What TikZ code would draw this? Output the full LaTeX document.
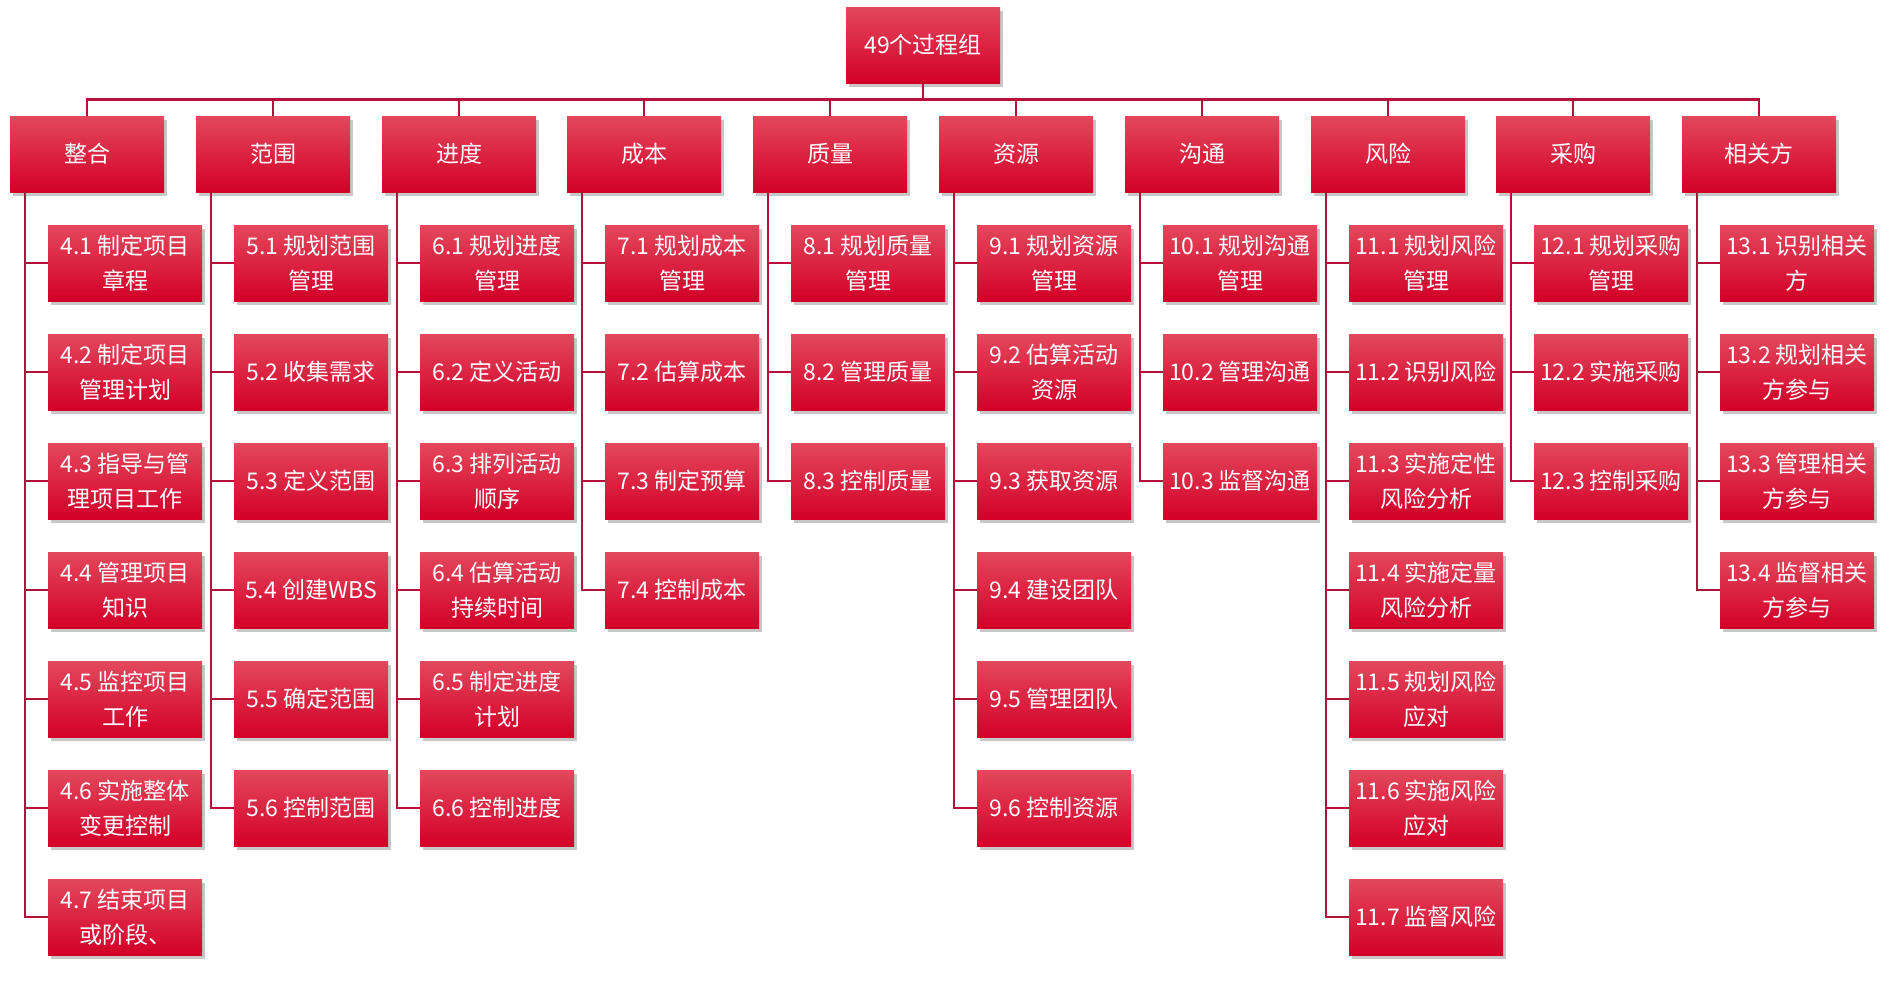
\documentclass[tikz,border=0pt]{standalone}
\usepackage{fontspec}
\newfontfamily\cjkfont{Noto Sans CJK SC}
\usetikzlibrary{shadows}
\definecolor{wbstop}{RGB}{227,72,92}
\definecolor{wbsmid}{RGB}{222,12,50}
\definecolor{wbsbot}{RGB}{211,0,40}
\definecolor{wbsline}{RGB}{180,16,58}

\begin{document}
\begin{tikzpicture}[
  x=1pt, y=-1pt,
  wbox/.style={top color=wbstop, middle color=wbsmid, bottom color=wbsbot, text=white,
    minimum width=154pt, minimum height=76pt, inner sep=0pt, align=center,
    font=\cjkfont\fontsize{23}{35}\selectfont,
    drop shadow={shadow xshift=3pt, shadow yshift=-4pt, fill=black, opacity=0.22}},
  link/.style={draw=wbsline, line width=2.5pt}
]
  \useasboundingbox (0,0) rectangle (1900,986);

  % root and areas
  \node[wbox] (root) at (923,45) {49个过程组};
  \node[wbox] (c4) at (87,154) {整合};
  \node[wbox] (c5) at (273,154) {范围};
  \node[wbox] (c6) at (459,154) {进度};
  \node[wbox] (c7) at (644,154) {成本};
  \node[wbox] (c8) at (830,154) {质量};
  \node[wbox] (c9) at (1016,154) {资源};
  \node[wbox] (c10) at (1202,154) {沟通};
  \node[wbox] (c11) at (1388,154) {风险};
  \node[wbox] (c12) at (1573,154) {采购};
  \node[wbox] (c13) at (1759,154) {相关方};

  % integration
  \node[wbox] (p4-1) at (125,263) {4.1 制定项目\\章程};
  \node[wbox] (p4-2) at (125,372) {4.2 制定项目\\管理计划};
  \node[wbox] (p4-3) at (125,481) {4.3 指导与管\\理项目工作};
  \node[wbox] (p4-4) at (125,590) {4.4 管理项目\\知识};
  \node[wbox] (p4-5) at (125,699) {4.5 监控项目\\工作};
  \node[wbox] (p4-6) at (125,808) {4.6 实施整体\\变更控制};
  \node[wbox] (p4-7) at (125,917) {4.7 结束项目\\或阶段、};

  % scope
  \node[wbox] (p5-1) at (311,263) {5.1 规划范围\\管理};
  \node[wbox] (p5-2) at (311,372) {5.2 收集需求};
  \node[wbox] (p5-3) at (311,481) {5.3 定义范围};
  \node[wbox] (p5-4) at (311,590) {5.4 创建WBS};
  \node[wbox] (p5-5) at (311,699) {5.5 确定范围};
  \node[wbox] (p5-6) at (311,808) {5.6 控制范围};

  % schedule
  \node[wbox] (p6-1) at (497,263) {6.1 规划进度\\管理};
  \node[wbox] (p6-2) at (497,372) {6.2 定义活动};
  \node[wbox] (p6-3) at (497,481) {6.3 排列活动\\顺序};
  \node[wbox] (p6-4) at (497,590) {6.4 估算活动\\持续时间};
  \node[wbox] (p6-5) at (497,699) {6.5 制定进度\\计划};
  \node[wbox] (p6-6) at (497,808) {6.6 控制进度};

  % cost
  \node[wbox] (p7-1) at (682,263) {7.1 规划成本\\管理};
  \node[wbox] (p7-2) at (682,372) {7.2 估算成本};
  \node[wbox] (p7-3) at (682,481) {7.3 制定预算};
  \node[wbox] (p7-4) at (682,590) {7.4 控制成本};

  % quality
  \node[wbox] (p8-1) at (868,263) {8.1 规划质量\\管理};
  \node[wbox] (p8-2) at (868,372) {8.2 管理质量};
  \node[wbox] (p8-3) at (868,481) {8.3 控制质量};

  % resources
  \node[wbox] (p9-1) at (1054,263) {9.1 规划资源\\管理};
  \node[wbox] (p9-2) at (1054,372) {9.2 估算活动\\资源};
  \node[wbox] (p9-3) at (1054,481) {9.3 获取资源};
  \node[wbox] (p9-4) at (1054,590) {9.4 建设团队};
  \node[wbox] (p9-5) at (1054,699) {9.5 管理团队};
  \node[wbox] (p9-6) at (1054,808) {9.6 控制资源};

  % communications
  \node[wbox] (p10-1) at (1240,263) {10.1 规划沟通\\管理};
  \node[wbox] (p10-2) at (1240,372) {10.2 管理沟通};
  \node[wbox] (p10-3) at (1240,481) {10.3 监督沟通};

  % risk
  \node[wbox] (p11-1) at (1426,263) {11.1 规划风险\\管理};
  \node[wbox] (p11-2) at (1426,372) {11.2 识别风险};
  \node[wbox] (p11-3) at (1426,481) {11.3 实施定性\\风险分析};
  \node[wbox] (p11-4) at (1426,590) {11.4 实施定量\\风险分析};
  \node[wbox] (p11-5) at (1426,699) {11.5 规划风险\\应对};
  \node[wbox] (p11-6) at (1426,808) {11.6 实施风险\\应对};
  \node[wbox] (p11-7) at (1426,917) {11.7 监督风险};

  % procurement
  \node[wbox] (p12-1) at (1611,263) {12.1 规划采购\\管理};
  \node[wbox] (p12-2) at (1611,372) {12.2 实施采购};
  \node[wbox] (p12-3) at (1611,481) {12.3 控制采购};

  % stakeholders
  \node[wbox] (p13-1) at (1797,263) {13.1 识别相关\\方};
  \node[wbox] (p13-2) at (1797,372) {13.2 规划相关\\方参与};
  \node[wbox] (p13-3) at (1797,481) {13.3 管理相关\\方参与};
  \node[wbox] (p13-4) at (1797,590) {13.4 监督相关\\方参与};

  % root to areas
  \draw[link] (root.south) -- ++(0,16.5) -| (c4);
  \draw[link] (root.south) -- ++(0,16.5) -| (c5);
  \draw[link] (root.south) -- ++(0,16.5) -| (c6);
  \draw[link] (root.south) -- ++(0,16.5) -| (c7);
  \draw[link] (root.south) -- ++(0,16.5) -| (c8);
  \draw[link] (root.south) -- ++(0,16.5) -| (c9);
  \draw[link] (root.south) -- ++(0,16.5) -| (c10);
  \draw[link] (root.south) -- ++(0,16.5) -| (c11);
  \draw[link] (root.south) -- ++(0,16.5) -| (c12);
  \draw[link] (root.south) -- ++(0,16.5) -| (c13);

  % areas to processes
  \draw[link] ([xshift=15pt]c4.south west) |- (p4-1);
  \draw[link] ([xshift=15pt]c4.south west) |- (p4-2);
  \draw[link] ([xshift=15pt]c4.south west) |- (p4-3);
  \draw[link] ([xshift=15pt]c4.south west) |- (p4-4);
  \draw[link] ([xshift=15pt]c4.south west) |- (p4-5);
  \draw[link] ([xshift=15pt]c4.south west) |- (p4-6);
  \draw[link] ([xshift=15pt]c4.south west) |- (p4-7);
  \draw[link] ([xshift=15pt]c5.south west) |- (p5-1);
  \draw[link] ([xshift=15pt]c5.south west) |- (p5-2);
  \draw[link] ([xshift=15pt]c5.south west) |- (p5-3);
  \draw[link] ([xshift=15pt]c5.south west) |- (p5-4);
  \draw[link] ([xshift=15pt]c5.south west) |- (p5-5);
  \draw[link] ([xshift=15pt]c5.south west) |- (p5-6);
  \draw[link] ([xshift=15pt]c6.south west) |- (p6-1);
  \draw[link] ([xshift=15pt]c6.south west) |- (p6-2);
  \draw[link] ([xshift=15pt]c6.south west) |- (p6-3);
  \draw[link] ([xshift=15pt]c6.south west) |- (p6-4);
  \draw[link] ([xshift=15pt]c6.south west) |- (p6-5);
  \draw[link] ([xshift=15pt]c6.south west) |- (p6-6);
  \draw[link] ([xshift=15pt]c7.south west) |- (p7-1);
  \draw[link] ([xshift=15pt]c7.south west) |- (p7-2);
  \draw[link] ([xshift=15pt]c7.south west) |- (p7-3);
  \draw[link] ([xshift=15pt]c7.south west) |- (p7-4);
  \draw[link] ([xshift=15pt]c8.south west) |- (p8-1);
  \draw[link] ([xshift=15pt]c8.south west) |- (p8-2);
  \draw[link] ([xshift=15pt]c8.south west) |- (p8-3);
  \draw[link] ([xshift=15pt]c9.south west) |- (p9-1);
  \draw[link] ([xshift=15pt]c9.south west) |- (p9-2);
  \draw[link] ([xshift=15pt]c9.south west) |- (p9-3);
  \draw[link] ([xshift=15pt]c9.south west) |- (p9-4);
  \draw[link] ([xshift=15pt]c9.south west) |- (p9-5);
  \draw[link] ([xshift=15pt]c9.south west) |- (p9-6);
  \draw[link] ([xshift=15pt]c10.south west) |- (p10-1);
  \draw[link] ([xshift=15pt]c10.south west) |- (p10-2);
  \draw[link] ([xshift=15pt]c10.south west) |- (p10-3);
  \draw[link] ([xshift=15pt]c11.south west) |- (p11-1);
  \draw[link] ([xshift=15pt]c11.south west) |- (p11-2);
  \draw[link] ([xshift=15pt]c11.south west) |- (p11-3);
  \draw[link] ([xshift=15pt]c11.south west) |- (p11-4);
  \draw[link] ([xshift=15pt]c11.south west) |- (p11-5);
  \draw[link] ([xshift=15pt]c11.south west) |- (p11-6);
  \draw[link] ([xshift=15pt]c11.south west) |- (p11-7);
  \draw[link] ([xshift=15pt]c12.south west) |- (p12-1);
  \draw[link] ([xshift=15pt]c12.south west) |- (p12-2);
  \draw[link] ([xshift=15pt]c12.south west) |- (p12-3);
  \draw[link] ([xshift=15pt]c13.south west) |- (p13-1);
  \draw[link] ([xshift=15pt]c13.south west) |- (p13-2);
  \draw[link] ([xshift=15pt]c13.south west) |- (p13-3);
  \draw[link] ([xshift=15pt]c13.south west) |- (p13-4);
\end{tikzpicture}
\end{document}
